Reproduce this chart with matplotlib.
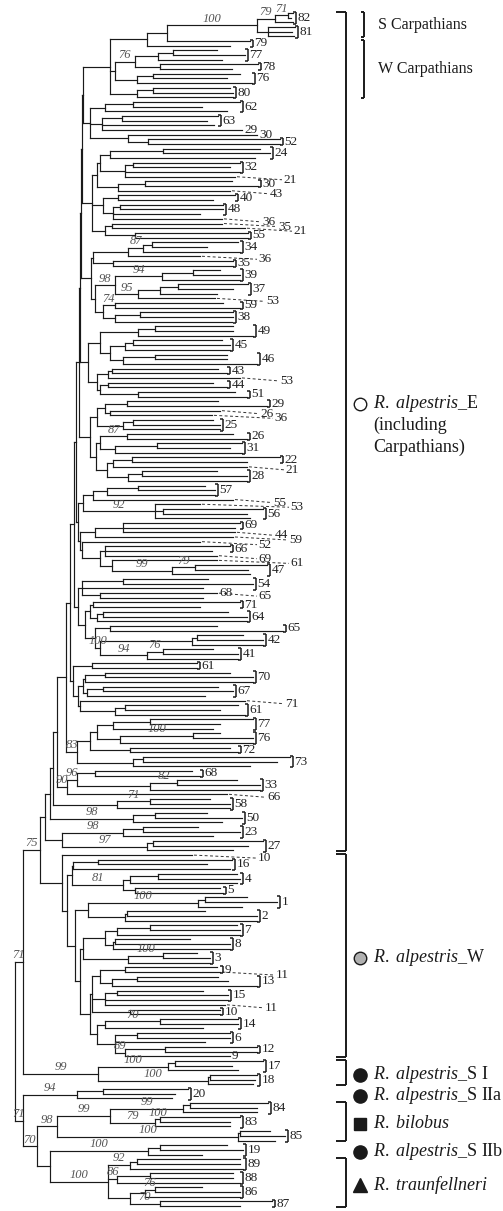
import re
import matplotlib.pyplot as plt
from matplotlib.collections import LineCollection

plt.rcParams['font.family'] = ['Liberation Serif', 'DejaVu Serif']
plt.rcParams['mathtext.fontset'] = 'custom'
plt.rcParams['mathtext.rm'] = 'Liberation Serif'
plt.rcParams['mathtext.it'] = 'Liberation Serif:italic'

# tree pieces: leaf = tip x, "(...)x/bootstrap#tag" = node at x
# {  opens a population bracket, }n closes it with label n,
# ~n dashed label, ^n label at tip
SC = "((((({293,291)288/71,293}82)275/79,({295,292,294}81)268)257/100#SC,{250)167,230}79)147"
WC_A = "(((({217,245)173,222}77)158,({258,232}78)160)135/76,(({240,227)153,252}76)137)115"
WC_B = "(({230,233)153,233}80)137"
G2 = "((({240,202)133,227}62)105,(({218,207)122,214}63,242^29)102,(257^30,({280,280}52)148)128)90"
G3 = ("((((({260,270)163,255}24)110,(({240,230)133,240}32,235~21)125)100,(({232,258}30)145,230~43)118)97,"
      "(({235,213}40)118,(({223,223)120,200}48,222~36)113)103,((222~35,245~21)112,({248,248}55)135)105)92")
G4A = "(((({238,207)152,240}34)143/87,200~36)128,({233,233}35)113)93"
G4B = "((({220,240)193,240}39)162/94,((({248,233)178,217}37)160,215~53)138/95)115/98"
G5A = "(({223,240}59)115/74,(({233,233)140,232}38)115)103"
G5B = "((({233,233)155,253}49)138,((({222,230)133,230}45)125,(({227,227)155,257}46)123)110)100"
G5C = "((({218,227}43)112,240~53)108,(({213,227}44)108,({235,247}51)138)100)97"
G6A = "((({218,267}29)127,(220~26,212~36)110)105,(({213,220)133,220}25)123)97"
G6B = ("((({233,247}26)127/87,(({242,230)157,242}31)115)100,"
       "((({280,247}22)132,247~21)113,(({217,247)142,247}28)128)107)96")
G7A = "(((({205,215)138,215}57)107,233~55)93,(200~53,({263,247)163,250}56)155/92)83"
G7B = ("((({240,235}69,235~44)123,233~59)95,(200~52,(({230,212}66,217~69)105,"
       "(217~61,(({267,248)195/79,250}47)172/99)112)100)82)80")
G8A = "(({208,253)123,203}54,(217^68~65,203)100)82"
CL100 = "((({243,263)197,263}42)192,(({213,238)163/76,238}41)147/94)100/100"
G8B = "((({240,200}71)93,(({228,247)103,247}64)97)90,(({217,283}65)110," + CL100 + ")95)85"
G9A = ("(({197,197}61)92,(((({230,253)105,253}70)85,(({218,233)103,205}67)87)83,"
       "(245~71,(({238,220)125,245}61)115)80)78)73")
G9B = "((((({253,220)150,213}77)113,(({220,253)193/100,253}76)120)97,({230,238}72)130)90,(({290,277)143,250}73)133)77/83"
G10A = "((({192,200}68)95,(({237,260)177/82,260}33)150)77/96,227~66)67/90"
G10B = "(({210,230)150/71,230}58)117"
G10C = "(({207,242)155,222}50)133/98"
G10D = "((({198,240)143,213}23)123/98,(({263,248)153,233}27)147/97)62"

W1 = "(({232,207)98,230}16)73"
W2 = "((({237,240)158,237}4)130,({220,223}5)135)123/81"
W3 = "((({247,277)205,242}1)198/100,(({205,257)127,257}2)125)88"
W4 = "(((({237,240)150,240}7)117,(({190,230)115,230}8)113)105,(({197,210)163/100,210}3)128)83"
W5 = ("((({217,220}9~11)125,(({218,228)137,257}13)112)100,"
      "(({203,228)117,228}15,225~11)105,({220,220}10)130)92")
W6 = "((({238,238)160/70,203}14)105,(({230,230)137,205}6,(({257,257}12)165,230^9)125/89)115)97"

SI = "((({263,232)175,238}17)168/100,(({257,255)210,253}18)208/100)98/99#SI"
C20 = "(({188,175)103,172}20)77/94#SIIa"
C98 = ("(((({268,257)190,257}84)183/99,(({240,230)160/100,230}83)155/79)110/99,"
       "(({270,285)240,275}85)238/100)57/98#BI")
CTR = ("((({227,243)160,202}19)148/100#SIIb,((({240,240)137,243}89)130/92,"
       "(({233,233)150,240}88)117/86,((({202,240)155/76,240}86)145,({272,240}87)160/70)130)108/100#TR)50")

GROUP_TAGS = ['E', 'W', 'SI', 'SIIa', 'BI', 'SIIb', 'TR']
GROUP_TEXT = [[r'$\mathit{R.\ alpestris}$_E', '(including', 'Carpathians)'],
              [r'$\mathit{R.\ alpestris}$_W'],
              [r'$\mathit{R.\ alpestris}$_S I'],
              [r'$\mathit{R.\ alpestris}$_S IIa'],
              [r'$\mathit{R.\ bilobus}$'],
              [r'$\mathit{R.\ alpestris}$_S IIb'],
              [r'$\mathit{R.\ traunfellneri}$']]
GROUP_BRACKET = [True, True, True, False, True, False, True]

# assemble the backbone
CARP = "(" + SC + "," + WC_A + "," + WC_B + ")110#CA"
N = "(" + CARP + "," + G2 + ")83"
N = "(" + N + "," + G3 + ")82"
N = "(" + N + ",(" + G4A + ",(" + G4B + "," + G5A + ")95)91)81"
N = "(" + N + ",(" + G5B + "," + G5C + ")88)80"
N = "(" + N + ",(" + G6A + "," + G6B + ")90)79"
N = "(" + N + ",(" + G7A + "," + G7B + ")78)76"
N = "(" + N + ",(" + G8A + "," + G8B + ")78)74"
N = "(" + N + "," + G9A + ")70"
N = "(" + N + "," + G9B + ")66"
E = "((((" + N + "," + G10A + ")57," + G10B + ")53," + G10C + ")50," + G10D + ")45#E"
W = ("(192~10,((" + W1 + "," + W2 + ")72,(" + W3 + ",(" + W4 + ",(" + W5 + "," + W6 +
     ")90)80)75)67)62#W")
TOP = "((" + E + "," + W + ")40/75," + SI + ")23/71"
BOTTOM = "(" + C20 + ",(" + C98 + "," + CTR + ")37/70)23/71"
TREE = "(" + TOP + "," + BOTTOM + ")15"


def parse(s):
    pos = 0
    leaves = []

    def node():
        nonlocal pos
        if s[pos] == '(':
            pos += 1
            kids = [node()]
            while s[pos] == ',':
                pos += 1
                kids.append(node())
            pos += 1
            m = re.match(r'(\d+)(?:/(\d+))?(?:#(\w+))?', s[pos:])
            pos += m.end()
            return dict(x=float(m.group(1)), bs=m.group(2), tag=m.group(3), kids=kids)
        m = re.match(r'(\{?)(\d+)((?:[}~^]\d+)*)', s[pos:])
        pos += m.end()
        leaf = dict(x=float(m.group(2)), kids=[], open=bool(m.group(1)), bs=None, tag=None,
                    marks=re.findall(r'([}~^])(\d+)', m.group(3)))
        leaves.append(leaf)
        return leaf

    root = node()
    return root, leaves


root, leaves = parse(TREE)
Y0, Y1 = 13, 1206
step = (Y1 - Y0) / (len(leaves) - 1)
for i, lf in enumerate(leaves):
    lf['y'] = Y0 + i * step
    lf['first'] = lf['last'] = i

tags = {}


def place(n):
    if n['kids']:
        for k in n['kids']:
            place(k)
        n['y'] = (n['kids'][0]['y'] + n['kids'][-1]['y']) / 2
        n['first'] = n['kids'][0]['first']
        n['last'] = n['kids'][-1]['last']
    if n['tag']:
        tags[n['tag']] = (n['first'], n['last'])


place(root)

fig = plt.figure(figsize=(5.03, 12.11), dpi=100)
ax = fig.add_axes([0, 0, 1, 1])
ax.set_xlim(0, 503)
ax.set_ylim(1211, 0)
ax.axis('off')

segs = []


def draw(n, px=None):
    if not n['kids']:
        return
    segs.append([(n['x'], n['kids'][0]['y']), (n['x'], n['kids'][-1]['y'])])
    for k in n['kids']:
        segs.append([(n['x'], k['y']), (k['x'], k['y'])])
        draw(k, n['x'])
    if n['bs'] and px is not None:
        ax.text((px + n['x']) / 2, n['y'] - 0.6, n['bs'], fontsize=9, style='italic',
                color='#555555', ha='center', va='bottom')


draw(root)
ax.add_collection(LineCollection(segs, colors='#1a1a1a', linewidths=0.85, capstyle='projecting'))

# population brackets first, then the dashed labels around them
bsegs = []
placed = []
start = None
for i, lf in enumerate(leaves):
    if lf['open']:
        start = i
    for mk, lab in lf['marks']:
        if mk == '}':
            grp = leaves[start:i + 1]
            bx = max(g['x'] for g in grp) + 3
            ya, yb = grp[0]['y'] - 1.2, grp[-1]['y'] + 1.2
            bsegs += [[(bx, ya), (bx, yb)], [(bx - 2.5, ya), (bx, ya)], [(bx - 2.5, yb), (bx, yb)]]
            ax.text(bx + 1.5, (ya + yb) / 2, lab, fontsize=9.5, color='#222222', ha='left', va='center')
            placed.append((bx + 1.5, (ya + yb) / 2, 6 * len(lab)))
        elif mk == '^':
            ax.text(lf['x'] + 2, lf['y'], lab, fontsize=9.5, color='#222222', ha='left', va='center')
            placed.append((lf['x'] + 2, lf['y'], 6 * len(lab)))


def clash(x, y, w):
    for px, py, pw in placed:
        if abs(py - y) < 8 and x < px + pw + 2 and px < x + w + 2:
            return True
    return False


for lf in leaves:
    for mk, lab in lf['marks']:
        if mk != '~':
            continue
        y = lf['y'] + 3
        tx = min(max(lf['x'] + 40, 258), 285)
        while clash(tx, y, 12) and tx < 300:
            tx += 8
        ax.plot([lf['x'] + 2, tx - 1], [lf['y'], y], ls=(0, (3, 2.5)), lw=0.7, color='#333333')
        ax.text(tx, y, lab, fontsize=9.5, color='#222222', ha='left', va='center')
        placed.append((tx, y, 12))

ax.add_collection(LineCollection(bsegs, colors='#1a1a1a', linewidths=1.1))

# right-hand clade brackets
BX = 346
rsegs = []
for tg, txt, br in zip(GROUP_TAGS, GROUP_TEXT, GROUP_BRACKET):
    a, b = tags[tg]
    ya, yb = leaves[a]['y'] - 0.8, leaves[b]['y'] + 0.8
    mid = (ya + yb) / 2
    if br:
        rsegs += [[(BX, ya), (BX, yb)], [(BX - 10, ya), (BX, ya)], [(BX - 10, yb), (BX, yb)]]
    y_txt = mid - 28 if len(txt) > 1 else mid + 2
    for j, line in enumerate(txt):
        ax.text(373, y_txt + 22 * j, line, fontsize=13, color='#1a1a1a', ha='left', va='center')
    if tg == 'E':
        ax.plot(360, y_txt, 'o', ms=9, mfc='white', mec='#1a1a1a', mew=1.0)
    elif tg == 'W':
        ax.plot(360, y_txt, 'o', ms=9, mfc='#b0b0b0', mec='#1a1a1a', mew=1.0)
    elif tg == 'BI':
        ax.plot(360, y_txt, 's', ms=8.5, color='#1a1a1a')
    elif tg == 'TR':
        ax.plot(360, y_txt, '^', ms=9.5, color='#1a1a1a')
    else:
        ax.plot(360, y_txt, 'o', ms=9.5, color='#1a1a1a')

# Carpathian sub-brackets
sc = tags['SC']
wc = (sc[1] + 1, tags['CA'][1])
for (a, b), name in zip([sc, wc], ['S Carpathians', 'W Carpathians']):
    ya, yb = leaves[a]['y'] - 1, leaves[b]['y'] + 1
    rsegs += [[(364, ya), (364, yb)], [(361, ya), (364, ya)], [(361, yb), (364, yb)]]
    ax.text(378, (ya + yb) / 2, name, fontsize=11.5, color='#1a1a1a', ha='left', va='center')
ax.add_collection(LineCollection(rsegs, colors='#1a1a1a', linewidths=1.4))

fig.savefig('out.png', dpi=100)
